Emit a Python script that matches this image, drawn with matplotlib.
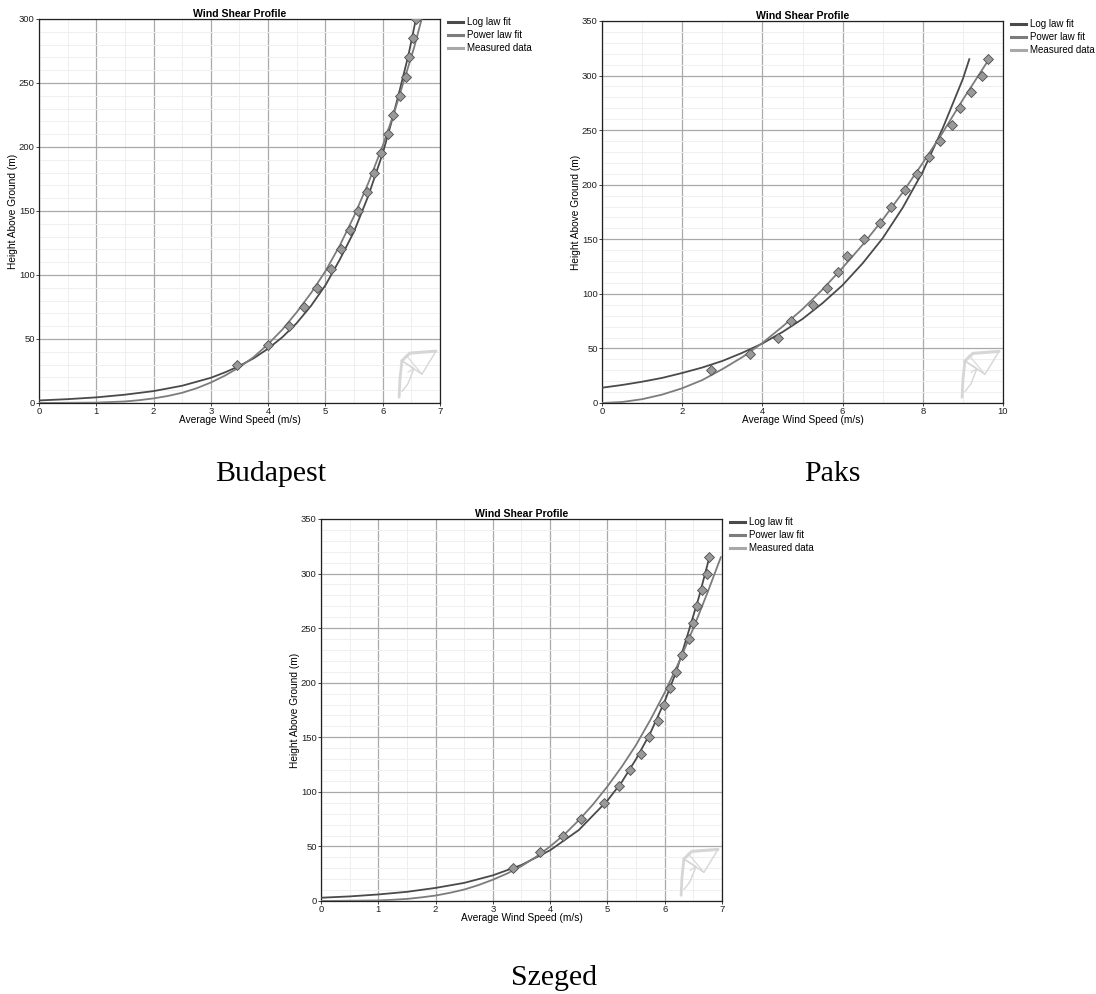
import matplotlib
matplotlib.use("Agg")
from matplotlib import pyplot as plt
from matplotlib.ticker import MultipleLocator
from matplotlib.lines import Line2D

# heights of the measured points (m)
bp_h = [30, 45, 60, 75, 90, 105, 120, 135, 150, 165, 180, 195, 210, 225, 240, 255, 270, 285, 300]
bp_u = [3.46, 4.00, 4.36, 4.62, 4.85, 5.10, 5.27, 5.43, 5.56, 5.72, 5.85, 5.97, 6.09, 6.18, 6.31, 6.40, 6.46, 6.53, 6.58]

pk_h = [30, 45, 60, 75, 90, 105, 120, 135, 150, 165, 180, 195, 210, 225, 240, 255, 270, 285, 300, 315]
pk_u = [2.72, 3.68, 4.38, 4.71, 5.26, 5.60, 5.89, 6.12, 6.53, 6.94, 7.20, 7.56, 7.85, 8.15, 8.43, 8.72, 8.94, 9.21, 9.47, 9.63]

sz_h = [30, 45, 60, 75, 90, 105, 120, 135, 150, 165, 180, 195, 210, 225, 240, 255, 270, 285, 300, 315]
sz_u = [3.35, 3.82, 4.23, 4.53, 4.94, 5.20, 5.40, 5.58, 5.72, 5.88, 5.99, 6.09, 6.20, 6.31, 6.42, 6.50, 6.56, 6.65, 6.73, 6.78]

# fit curves (speed, height)
bp_log_u = [0, 0.5, 1, 1.5, 2, 2.5, 3, 3.25, 3.5, 3.75, 4, 4.25, 4.5, 4.75, 5, 5.25, 5.5, 5.75, 6, 6.15, 6.3, 6.45, 6.58]
bp_log_h = [2, 3, 4.4, 6.5, 9.3, 13.5, 19.7, 24, 29, 35, 42.5, 51.5, 62.5, 76, 92, 112, 134, 162, 195, 219, 245, 272, 300]
bp_pow_u = [0, 1, 1.5, 1.75, 2, 2.25, 2.5, 2.75, 3, 3.25, 3.5, 3.75, 4, 4.25, 4.5, 4.75, 5, 5.25, 5.5, 5.75, 6, 6.2, 6.4, 6.55, 6.68]
bp_pow_h = [0, 0.3, 1.2, 2.2, 3.6, 5.5, 8, 11.5, 16, 21.5, 28, 36, 46, 57.5, 71, 86, 103, 123, 146, 172, 201, 227, 256, 278, 300]

pk_log_u = [0, 0.5, 1, 1.5, 2, 2.5, 3, 3.5, 4, 4.5, 5, 5.5, 6, 6.5, 7, 7.5, 8, 8.5, 9, 9.16]
pk_log_h = [14, 16.5, 19.5, 23, 27.5, 32.5, 38.5, 46, 54.5, 65, 77, 91.5, 108, 128, 151, 179, 212, 252, 297, 315]
pk_pow_u = [0, 0.5, 1, 1.5, 2, 2.5, 3, 3.5, 4, 4.5, 5, 5.5, 6, 6.5, 7, 7.5, 8, 8.5, 9, 9.65]
pk_pow_h = [0, 0.9, 3.5, 7.7, 13.5, 21, 31, 42, 55, 70, 86, 104, 124, 145, 168, 193, 220, 248, 278, 315]

sz_log_u = [0, 0.5, 1, 1.5, 2, 2.5, 3, 3.5, 4, 4.5, 5, 5.25, 5.5, 5.75, 6, 6.2, 6.4, 6.6, 6.78]
sz_log_h = [3, 4.2, 6, 8.4, 12, 16.6, 23.5, 33, 46.5, 65, 92, 109, 130, 154, 183, 210, 244, 279, 315]
sz_pow_u = [0, 1, 1.25, 1.5, 1.75, 2, 2.25, 2.5, 2.75, 3, 3.25, 3.5, 3.75, 4, 4.25, 4.5, 4.75, 5, 5.25, 5.5, 5.75, 6, 6.25, 6.5, 6.75, 6.98]
sz_pow_h = [0, 0.5, 1.1, 1.9, 3.3, 5, 7.5, 10.5, 14.6, 19.5, 25.2, 32, 40.3, 50, 61, 74, 88.6, 105, 123, 143, 166, 191, 219, 250, 283, 315]

c_log = '#4a4a4a'
c_pow = '#7c7c7c'
c_meas = '#a8a8a8'

plt.rcParams['font.family'] = ['Liberation Sans', 'DejaVu Sans']

fig = plt.figure(figsize=(10.96, 9.94), dpi=100)
W, H = 1096, 994


def logo(ax):
    # faint wire-frame emblem in the lower right corner
    kw = dict(transform=ax.transAxes, color='#d6d6d6', zorder=1, solid_capstyle='round')
    ax.plot([0.905, 0.925, 0.99], [0.11, 0.13, 0.135], lw=2.2, **kw)
    ax.plot([0.905, 0.9, 0.898], [0.11, 0.06, 0.015], lw=2.0, **kw)
    ax.plot([0.905, 0.955, 0.99], [0.11, 0.075, 0.135], lw=1.0, **kw)
    ax.plot([0.905, 0.935, 0.92, 0.905], [0.11, 0.09, 0.05, 0.03], lw=1.0, **kw)
    ax.plot([0.915, 0.955], [0.125, 0.075], lw=0.8, **kw)
    ax.plot([0.92, 0.935], [0.08, 0.09], lw=0.8, **kw)


def panel(box, xmax, xstep, ymax, lu, lh, pu, ph, mu, mh, caption, cap_xy):
    l, t, r, b = box
    ax = fig.add_axes([l / W, 1 - b / H, (r - l) / W, (b - t) / H])
    ax.set_xlim(0, xmax)
    ax.set_ylim(0, ymax)
    ax.xaxis.set_major_locator(MultipleLocator(xstep))
    ax.xaxis.set_minor_locator(MultipleLocator(xstep / 2))
    ax.yaxis.set_major_locator(MultipleLocator(50))
    ax.yaxis.set_minor_locator(MultipleLocator(10))
    ax.grid(which='major', color='#a9a9a9', lw=0.9)
    ax.grid(which='minor', color='#efefef', lw=0.7)
    ax.set_axisbelow(True)
    for s in ax.spines.values():
        s.set_color('#202020')
        s.set_linewidth(0.9)
    ax.tick_params(labelsize=6.8, length=2, width=0.6, pad=1, colors='#202020')
    ax.tick_params(which='minor', length=0)

    logo(ax)

    ax.plot(lu, lh, color=c_log, lw=1.3, zorder=3)
    ax.plot(pu, ph, color=c_pow, lw=1.3, zorder=3)
    ax.plot(mu, mh, linestyle='none', marker='D', ms=5.4, mfc='#999999',
            mec='#4e4e4e', mew=0.6, zorder=4)

    ax.set_title('Wind Shear Profile', fontsize=7.6, fontweight='bold', pad=1.5)
    ax.set_xlabel('Average Wind Speed (m/s)', fontsize=7.3, labelpad=-0.5)
    ax.set_ylabel('Height Above Ground (m)', fontsize=7.3, labelpad=1)

    handles = [Line2D([], [], color=c, lw=2.2) for c in (c_log, c_pow, c_meas)]
    ax.legend(handles, ['Log law fit', 'Power law fit', 'Measured data'],
              loc='upper left', bbox_to_anchor=(1.02, 1.005), frameon=False,
              fontsize=7, handlelength=1.5, handletextpad=0.45,
              labelspacing=0.32, borderaxespad=0, borderpad=0)

    fig.text(cap_xy[0] / W, 1 - cap_xy[1] / H, caption, fontsize=21.5,
             family=['Liberation Serif', 'DejaVu Serif'], ha='center', va='baseline')
    return ax


panel((39, 19, 440, 403), 7, 1, 300, bp_log_u, bp_log_h, bp_pow_u, bp_pow_h,
      bp_u, bp_h, 'Budapest', (271, 481))
panel((602, 21, 1003, 403), 10, 2, 350, pk_log_u, pk_log_h, pk_pow_u, pk_pow_h,
      pk_u, pk_h, 'Paks', (832, 481))
panel((321, 519, 722, 901), 7, 1, 350, sz_log_u, sz_log_h, sz_pow_u, sz_pow_h,
      sz_u, sz_h, 'Szeged', (554, 985))

fig.savefig('out.png', dpi=100)
